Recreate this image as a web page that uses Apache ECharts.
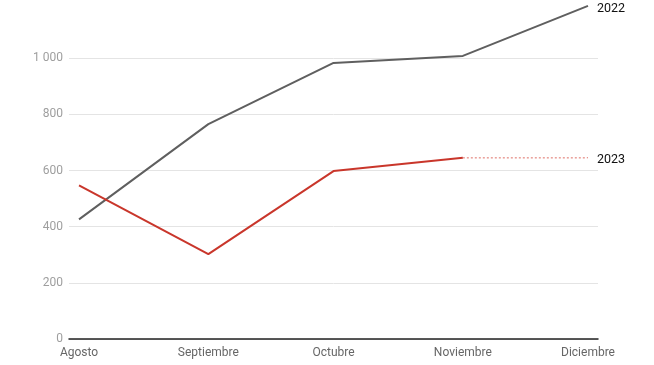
<!DOCTYPE html>
<html><head><meta charset="utf-8">
<script src="https://cdn.jsdelivr.net/npm/echarts@6/dist/echarts.min.js"></script>
<style>html,body{margin:0;padding:0;background:#fff}#c{width:654px;height:365px}</style>
</head><body><div id="c"></div>
<script>
const categories = ['Agosto', 'Septiembre', 'Octubre', 'Noviembre', 'Diciembre'];
const dates = ['2023-08-01', '2023-09-01', '2023-10-01', '2023-11-01', '2023-12-01'];
const values2022 = [426, 765, 983, 1008, 1186];
const values2023 = [547, 302, 598, 645];
const projection2023 = [null, null, null, 645, 645];
const yTicks = [0, 200, 400, 600, 800, 1000];

const DAY = 86400000;
const t0 = Date.parse(dates[0] + 'T00:00:00Z');
const xs = dates.map(d => Math.round((Date.parse(d + 'T00:00:00Z') - t0) / DAY));
const chart = echarts.init(document.getElementById('c'), null, {renderer: 'canvas'});
const pts = arr => arr.map((v, i) => [xs[i], v]).filter(p => p[1] !== null);
const fmt = v => String(v).replace(/\B(?=(\d{3})+(?!\d))/g, ' ');

chart.setOption({
  animation: false,
  grid: {left: 69, right: 56, top: 2, bottom: 26, containLabel: false},
  xAxis: {
    type: 'value', min: xs[0] - 2.4, max: xs[xs.length - 1] + 2.4,
    axisLine: {show: true, onZero: false, lineStyle: {color: '#222', width: 1.5}},
    axisTick: {show: false},
    splitLine: {show: false},
    axisLabel: {
      customValues: xs,
      formatter: v => { const i = xs.indexOf(Math.round(v)); return i >= 0 ? categories[i] : ''; },
      color: '#666', fontSize: 12, fontFamily: 'Roboto', margin: 8
    }
  },
  yAxis: {
    type: 'value', min: 0, max: 1200, interval: 200,
    axisLine: {show: false}, axisTick: {show: false},
    splitLine: {lineStyle: {color: ['#e4e4e4', '#e4e4e4', '#e4e4e4', '#e4e4e4', '#e4e4e4', '#e4e4e4', 'rgba(0,0,0,0)'], width: 1}},
    axisLabel: {
      customValues: yTicks,
      formatter: v => fmt(v),
      color: '#9e9e9e', fontSize: 12, fontFamily: 'Roboto', margin: 6
    }
  },
  series: [
    {
      name: '2022', type: 'line', data: pts(values2022), symbol: 'none',
      lineStyle: {color: '#5f5f5f', width: 2}, itemStyle: {color: '#5f5f5f'},
      endLabel: {show: true, formatter: '2022', color: '#111', fontSize: 12.5, fontFamily: 'Roboto', distance: 9, offset: [0, 3]}
    },
    {
      name: '2023', type: 'line', data: pts(values2023), symbol: 'none',
      lineStyle: {color: '#c9362b', width: 2}, itemStyle: {color: '#c9362b'}
    },
    {
      name: '2023p', type: 'line', data: pts(projection2023), symbol: 'none',
      lineStyle: {color: '#de6f66', width: 1, type: [2, 2]}, itemStyle: {color: '#de6f66'},
      endLabel: {show: true, formatter: '2023', color: '#111', fontSize: 12.5, fontFamily: 'Roboto', distance: 9, offset: [0, 2]}
    }
  ]
});
</script></body></html>
